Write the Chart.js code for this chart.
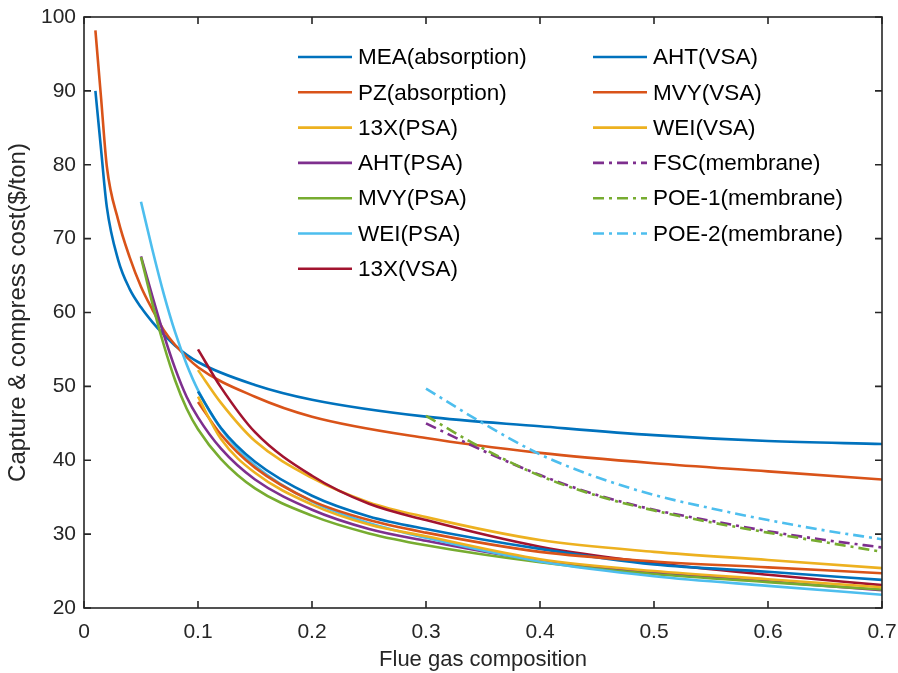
<!DOCTYPE html>
<html>
<head>
<meta charset="utf-8">
<script src="https://cdn.jsdelivr.net/npm/chart.js@4.4.0/dist/chart.umd.min.js"></script>
<style>
  body { margin: 0; background: #fff; }
  #wrap { width: 898px; height: 673px; }
</style>
</head>
<body>
<div id="wrap"><canvas id="myChart" width="898" height="673"></canvas></div>
<script>
// x values (flue gas composition) for each group of curves
var xAbs = [0.01, 0.015, 0.02, 0.03, 0.04, 0.05, 0.06, 0.07, 0.08, 0.1, 0.15, 0.2, 0.3, 0.4, 0.5, 0.6, 0.7];
var xPsa = [0.05, 0.06, 0.07, 0.08, 0.09, 0.1, 0.12, 0.15, 0.2, 0.25, 0.3, 0.4, 0.5, 0.6, 0.7];
var xVsa = [0.1, 0.12, 0.15, 0.2, 0.25, 0.3, 0.4, 0.5, 0.6, 0.7];
var xMem = [0.3, 0.35, 0.4, 0.45, 0.5, 0.55, 0.6, 0.65, 0.7];

// capture & compress cost ($/ton)
var mea    = [90, 82, 74.3, 67.1, 63.2, 60.7, 58.7, 57.0, 55.5, 53.3, 50.2, 48.2, 45.9, 44.6, 43.4, 42.6, 42.2];
var pz     = [98.2, 89, 79.8, 72.5, 67.5, 63.5, 60.4, 57.6, 55.6, 52.6, 48.6, 45.9, 43.0, 41.0, 39.6, 38.5, 37.4];
var x13Psa = [52.2, 47.8, 42.6, 37.6, 34.3, 32.3, 29.2, 27.6, 26.5, 25.4];
var ahtPsa = [67.6, 62.2, 57.0, 52.4, 48.6, 45.8, 41.6, 37.4, 33.3, 30.7, 29.1, 26.4, 24.8, 23.6, 22.4];
var mvyPsa = [67.5, 61.2, 55.6, 50.8, 47.0, 44.2, 40.2, 36.2, 32.5, 30.1, 28.5, 26.2, 24.6, 23.5, 22.5];
var weiPsa = [75, 68.5, 62.5, 57.3, 53.0, 49.5, 44.3, 39.3, 34.4, 31.5, 29.5, 26.3, 24.3, 23.0, 21.8];
var x13Vsa = [55.0, 49.9, 43.8, 37.9, 34.1, 31.9, 28.3, 26.1, 24.5, 23.1];
var ahtVsa = [49.3, 44.4, 39.8, 35.2, 32.4, 30.7, 28.0, 25.9, 24.9, 23.8];
var mvyVsa = [47.9, 43.5, 39.0, 34.5, 31.9, 30.2, 27.6, 26.3, 25.5, 24.7];
var weiVsa = [48.6, 42.9, 38.3, 34.0, 31.3, 29.7, 26.6, 25.0, 23.9, 22.8];
var fsc    = [45.0, 41.3, 38.0, 35.3, 33.3, 31.8, 30.4, 29.2, 28.2];
var poe1   = [46.0, 41.6, 37.9, 35.2, 33.2, 31.6, 30.2, 28.9, 27.6];
var poe2   = [49.7, 45.0, 40.8, 37.7, 35.3, 33.5, 31.9, 30.5, 29.3];

var xTicks = [0, 0.1, 0.2, 0.3, 0.4, 0.5, 0.6, 0.7];
var yTicks = [20, 30, 40, 50, 60, 70, 80, 90, 100];

// matlab default colours
var blue = '#0072BD', orange = '#D95319', yellow = '#EDB120', purple = '#7E2F8E',
    green = '#77AC30', cyan = '#4DBEEE', red = '#A2142F';
var dashDot = [11, 5, 3, 5];
var font = 'Liberation Sans, Arial, Helvetica, sans-serif';

function pts(xs, ys) {
    return xs.map(function (x, i) { return { x: x, y: ys[i] }; });
}

function line(label, xs, ys, color, dash) {
    return {
        label: label,
        data: pts(xs, ys),
        borderColor: color,
        backgroundColor: color,
        borderWidth: 2.6,
        borderDash: dash || [],
        pointRadius: 0,
        fill: false,
        cubicInterpolationMode: 'monotone'
    };
}

var datasets = [
    line('MEA(absorption)', xAbs, mea, blue),
    line('PZ(absorption)', xAbs, pz, orange),
    line('13X(PSA)', xVsa, x13Psa, yellow),
    line('AHT(PSA)', xPsa, ahtPsa, purple),
    line('MVY(PSA)', xPsa, mvyPsa, green),
    line('WEI(PSA)', xPsa, weiPsa, cyan),
    line('13X(VSA)', xVsa, x13Vsa, red),
    line('AHT(VSA)', xVsa, ahtVsa, blue),
    line('MVY(VSA)', xVsa, mvyVsa, orange),
    line('WEI(VSA)', xVsa, weiVsa, yellow),
    line('FSC(membrane)', xMem, fsc, purple, dashDot),
    line('POE-1(membrane)', xMem, poe1, green, dashDot),
    line('POE-2(membrane)', xMem, poe2, cyan, dashDot)
];
// later curves on top, like matlab
datasets.forEach(function (d, i) { d.order = -i; });

// box + inward ticks on all four sides
var boxPlugin = {
    id: 'box',
    afterDraw: function (chart) {
        var ctx = chart.ctx, a = chart.chartArea;
        var xs = chart.scales.x, ys = chart.scales.y;
        var len = 7;
        ctx.save();
        ctx.strokeStyle = '#262626';
        ctx.lineWidth = 1.6;
        ctx.strokeRect(a.left, a.top, a.right - a.left, a.bottom - a.top);
        ctx.beginPath();
        xTicks.forEach(function (v) {
            var px = xs.getPixelForValue(v);
            ctx.moveTo(px, a.bottom); ctx.lineTo(px, a.bottom - len);
            ctx.moveTo(px, a.top); ctx.lineTo(px, a.top + len);
        });
        yTicks.forEach(function (v) {
            var py = ys.getPixelForValue(v);
            ctx.moveTo(a.left, py); ctx.lineTo(a.left + len, py);
            ctx.moveTo(a.right, py); ctx.lineTo(a.right - len, py);
        });
        ctx.stroke();
        ctx.restore();
    }
};

// two column legend inside the axes (box off)
var legendPlugin = {
    id: 'colLegend',
    afterDraw: function (chart) {
        var ctx = chart.ctx;
        var cols = [{ x: 298, n: 7 }, { x: 593, n: 6 }];
        var top = 57, step = 35.3, lineLen = 54;
        var k = 0;
        ctx.save();
        ctx.font = '22.5px ' + font;
        ctx.textBaseline = 'middle';
        ctx.fillStyle = '#000';
        cols.forEach(function (c) {
            for (var r = 0; r < c.n; r++) {
                var ds = chart.data.datasets[k++];
                var y = top + r * step;
                ctx.beginPath();
                ctx.setLineDash(ds.borderDash);
                ctx.strokeStyle = ds.borderColor;
                ctx.lineWidth = ds.borderWidth;
                ctx.moveTo(c.x, y);
                ctx.lineTo(c.x + lineLen, y);
                ctx.stroke();
                ctx.setLineDash([]);
                ctx.fillText(ds.label, c.x + lineLen + 6, y + 1);
            }
        });
        ctx.restore();
    }
};

new Chart(document.getElementById('myChart').getContext('2d'), {
    type: 'line',
    data: { datasets: datasets },
    options: {
        responsive: false,
        animation: false,
        events: [],
        layout: { padding: { top: 17, right: 16, left: 0, bottom: 0 } },
        plugins: { legend: { display: false }, tooltip: { enabled: false } },
        scales: {
            x: {
                type: 'linear',
                min: 0,
                max: 0.7,
                afterBuildTicks: function (s) { s.ticks = xTicks.map(function (v) { return { value: v }; }); },
                afterFit: function (s) { s.height = 65; s.paddingLeft = 0; s.paddingRight = 0; },
                grid: { display: false, drawTicks: false },
                border: { display: false },
                ticks: {
                    color: '#262626',
                    font: { family: font, size: 21 },
                    padding: 12,
                    maxRotation: 0,
                    callback: function (v) { return v === 0 ? '0' : v.toFixed(1); }
                },
                title: {
                    display: true,
                    text: 'Flue gas composition',
                    color: '#262626',
                    font: { family: font, size: 22 },
                    padding: { top: 0, bottom: 0 }
                }
            },
            y: {
                type: 'linear',
                min: 20,
                max: 100,
                afterBuildTicks: function (s) { s.ticks = yTicks.map(function (v) { return { value: v }; }); },
                afterFit: function (s) { s.width = 84; s.paddingTop = 0; s.paddingBottom = 0; },
                grid: { display: false, drawTicks: false },
                border: { display: false },
                ticks: {
                    color: '#262626',
                    font: { family: font, size: 21 },
                    padding: 8
                },
                title: {
                    display: true,
                    text: 'Capture & compress cost($/ton)',
                    color: '#262626',
                    font: { family: font, size: 24 },
                    padding: { top: 4, bottom: 0 }
                }
            }
        }
    },
    plugins: [boxPlugin, legendPlugin]
});
</script>
</body>
</html>
